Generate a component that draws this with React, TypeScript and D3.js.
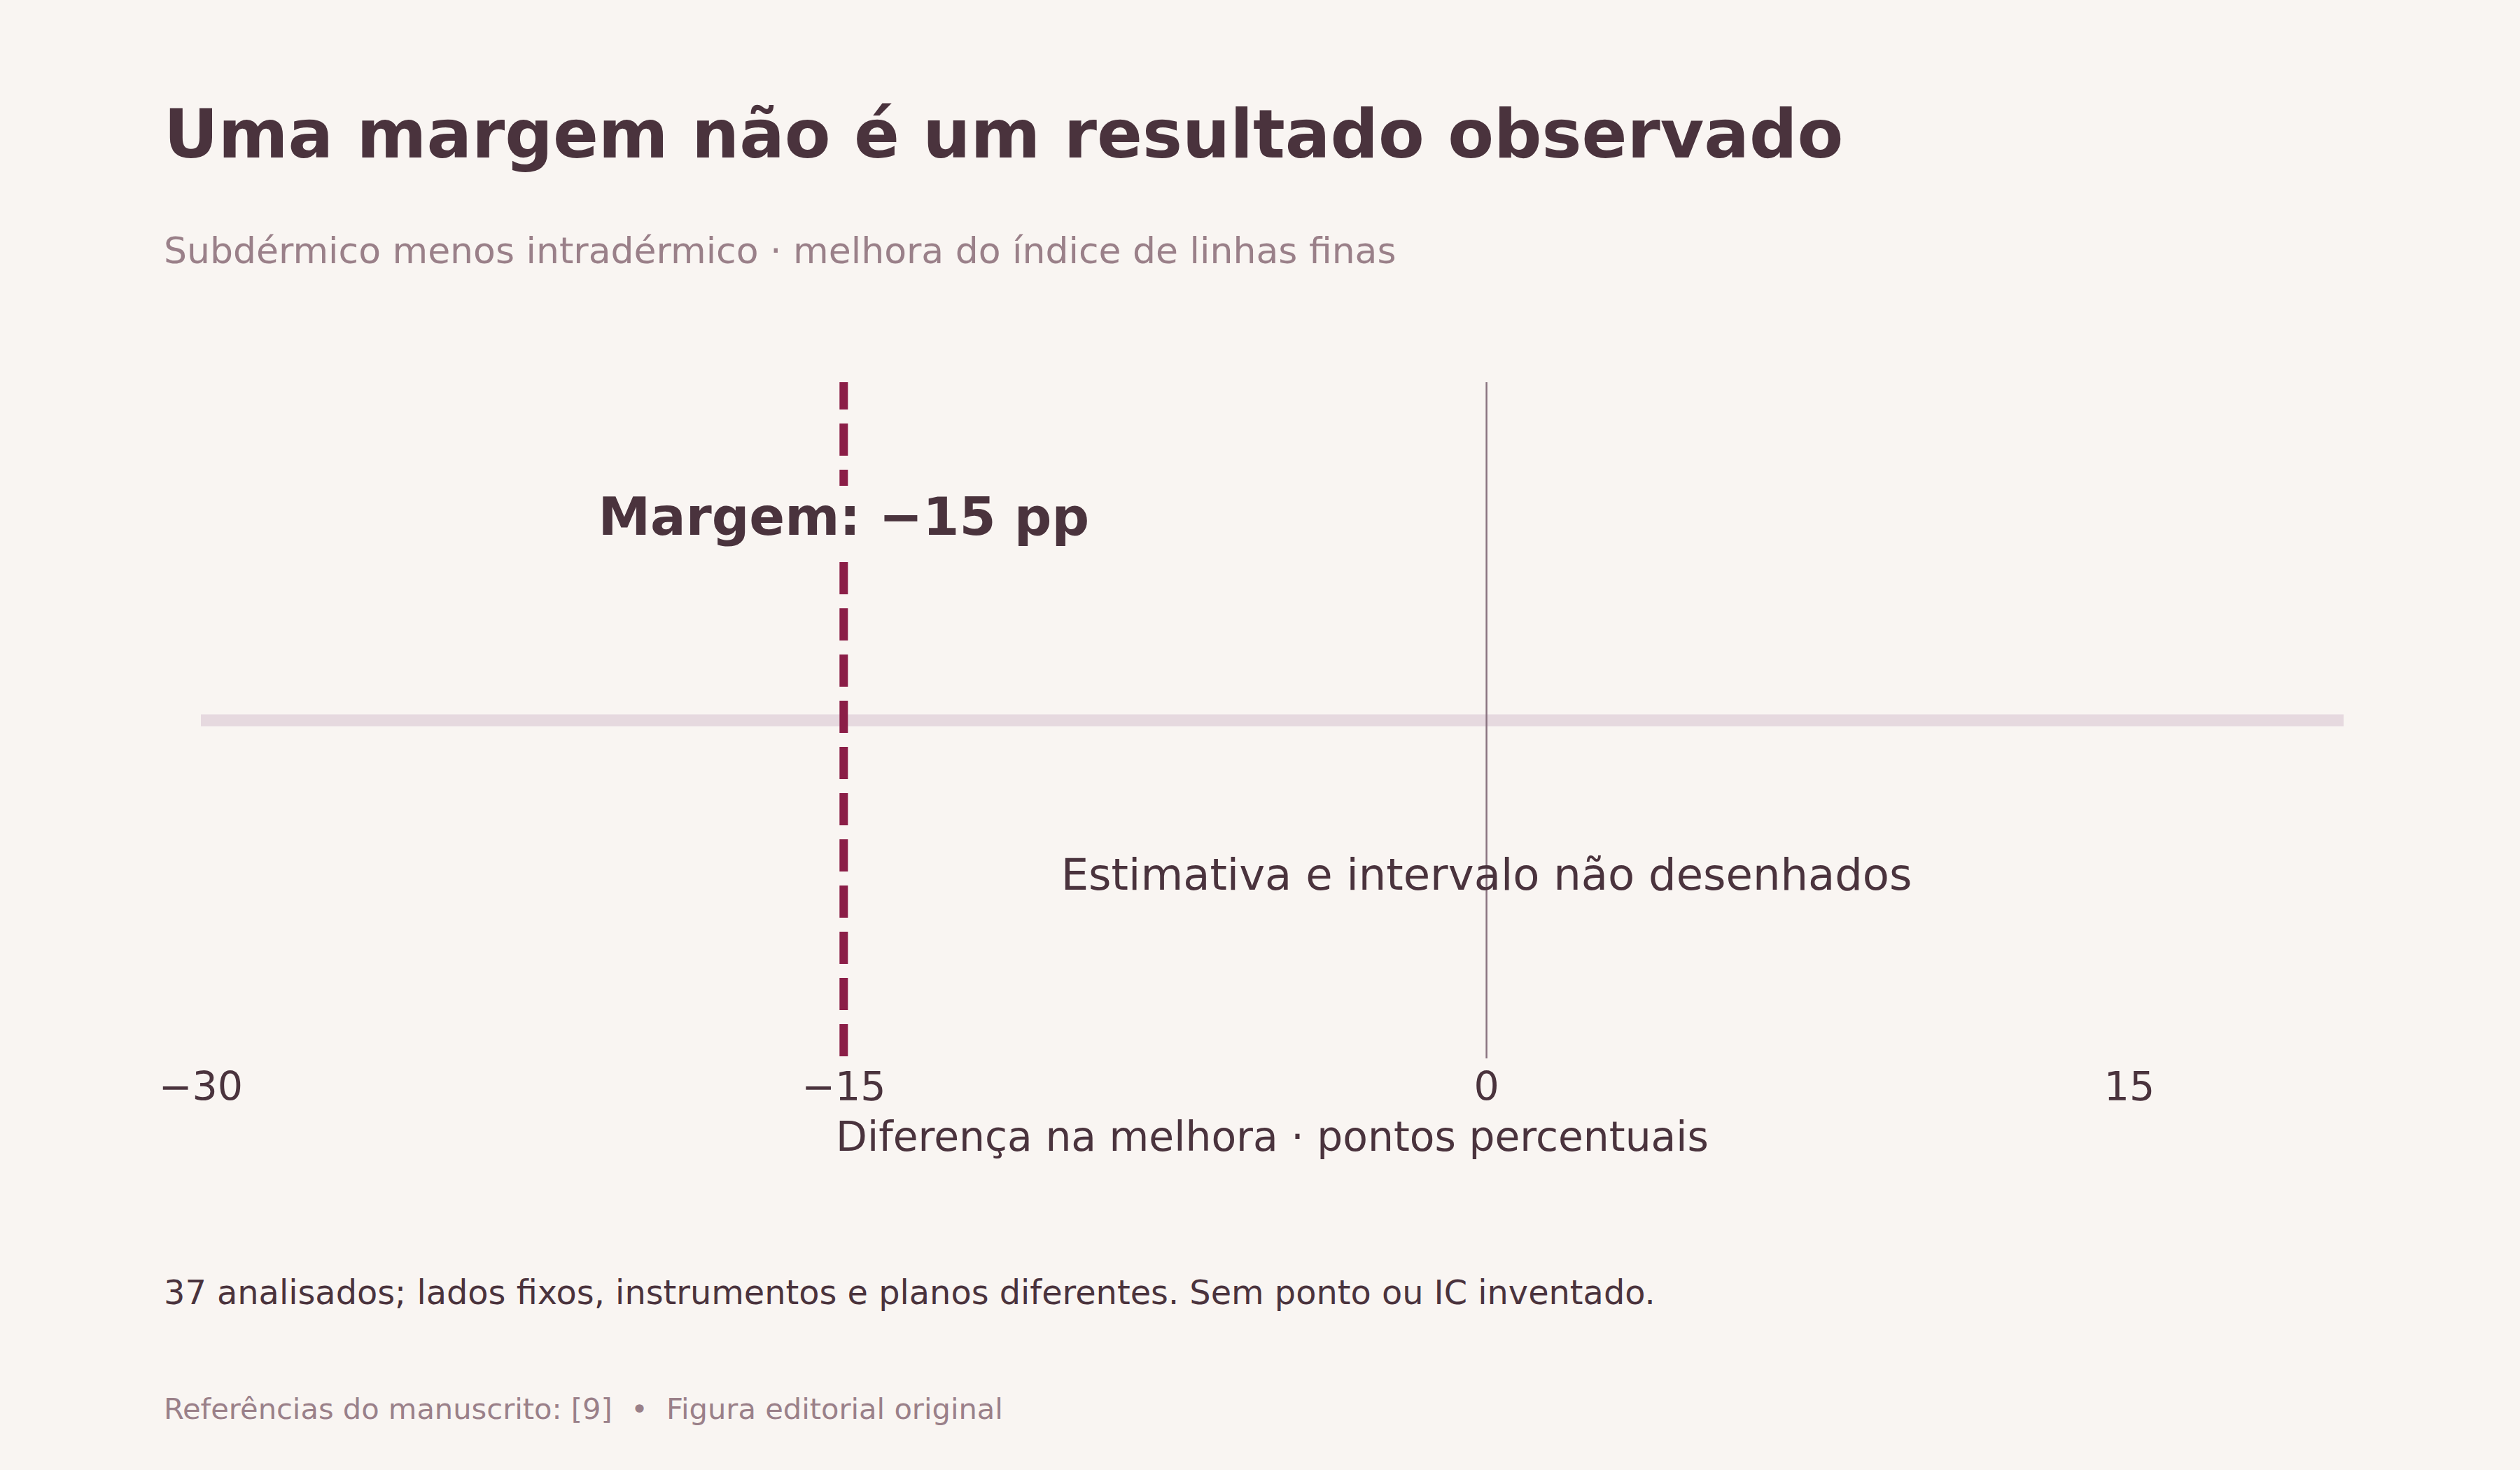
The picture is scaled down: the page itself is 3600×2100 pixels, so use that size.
import React from "react";
import * as d3 from "d3";

const W = 3600;
const H = 2100;

const domainX: [number, number] = [-30, 20];
const tickValues = [-30, -15, 0, 15];
const marginValue = -15;
const zeroValue = 0;

const title = "Uma margem não é um resultado observado";
const subtitle = "Subdérmico menos intradérmico · melhora do índice de linhas finas";
const marginLabel = "Margem: −15 pp";
const noteInside = "Estimativa e intervalo não desenhados";
const axisTitle = "Diferença na melhora · pontos percentuais";
const footnote = "37 analisados; lados fixos, instrumentos e planos diferentes. Sem ponto ou IC inventado.";
const source = "Referências do manuscrito: [9]  •  Figura editorial original";

const BG = "#f9f5f2";
const DARK = "#4a333d";
const MUTED = "#9a8089";
const ACCENT = "#8b1e47";
const BAND = "#e6d9df";
const ZERO = "#8a7380";
const FONT = "'DejaVu Sans', sans-serif";

export default function App() {
  const x = d3.scaleLinear().domain(domainX).range([287, 3348]);
  const yTop = 546;
  const yBot = 1512;
  const yMid = (yTop + yBot) / 2;
  const fmt = (v: number) => (v < 0 ? "−" + Math.abs(v) : String(v));

  return (
    <svg
      width={W}
      height={H}
      viewBox={`0 0 ${W} ${H}`}
      style={{ position: "absolute", left: 0, top: 0, background: BG }}
      fontFamily={FONT}
    >
      <rect x={0} y={0} width={W} height={H} fill={BG} />
      <text x={234} y={225} fontSize={95.8} fontWeight="bold" fill={DARK}>
        {title}
      </text>
      <text x={234} y={376} fontSize={52} fill={MUTED}>
        {subtitle}
      </text>

      {/* horizontal band */}
      <line
        x1={x(domainX[0])}
        x2={x(domainX[1])}
        y1={yMid}
        y2={yMid}
        stroke={BAND}
        strokeWidth={17}
      />

      {/* zero line */}
      <line x1={x(zeroValue)} x2={x(zeroValue)} y1={yTop} y2={yBot} stroke={ZERO} strokeWidth={2.5} />

      {/* margin dashed line */}
      <line
        x1={x(marginValue)}
        x2={x(marginValue)}
        y1={yTop}
        y2={yBot}
        stroke={ACCENT}
        strokeWidth={12}
        strokeDasharray="46 20"
        strokeDashoffset={7}
      />

      {/* label with background */}
      <rect x={x(marginValue) - 40} y={694} width={80} height={105} fill={BG} />
      <text x={x(marginValue)} y={764} fontSize={75} fontWeight="bold" fill={DARK} textAnchor="middle">
        {marginLabel}
      </text>

      <text x={x(zeroValue)} y={1271} fontSize={62.4} fill={DARK} textAnchor="middle">
        {noteInside}
      </text>

      {tickValues.map((t) => (
        <text key={t} x={x(t)} y={1572} fontSize={57} fill={DARK} textAnchor="middle">
          {fmt(t)}
        </text>
      ))}

      <text x={(x(domainX[0]) + x(domainX[1])) / 2} y={1644} fontSize={58.3} fill={DARK} textAnchor="middle">
        {axisTitle}
      </text>

      <text x={234} y={1863} fontSize={47.8} fill={DARK}>
        {footnote}
      </text>
      <text x={234} y={2027} fontSize={41.6} fill={MUTED} xmlSpace="preserve" style={{ whiteSpace: "pre" }}>
        {source}
      </text>
    </svg>
  );
}
